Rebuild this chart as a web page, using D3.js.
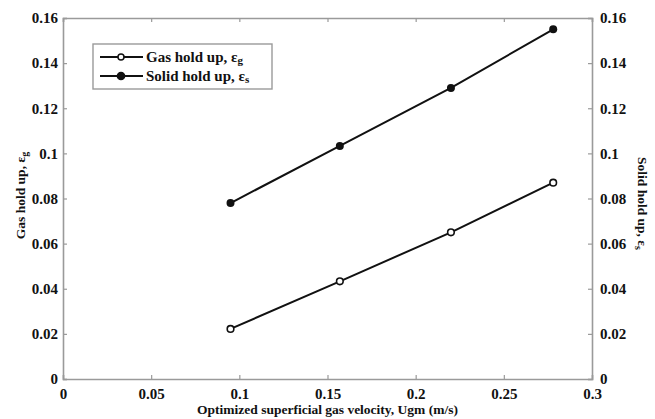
<!DOCTYPE html>
<html>
<head>
<meta charset="utf-8">
<script src="https://cdn.jsdelivr.net/npm/d3@7"></script>
<style>
  body { margin: 0; background: #fff; }
  svg { display: block; font-family: "Liberation Serif", "Times New Roman", serif; font-weight: bold; }
</style>
</head>
<body>
<div id="chart"></div>
<script>
// data
const velocity = [0.095, 0.157, 0.220, 0.278]
const gasHoldUp = [0.0222, 0.0433, 0.0650, 0.0870]
const solidHoldUp = [0.0780, 0.1033, 0.1290, 0.1550]
const xTicks = [0, 0.05, 0.1, 0.15, 0.2, 0.25, 0.3]
const yTicks = [0, 0.02, 0.04, 0.06, 0.08, 0.1, 0.12, 0.14, 0.16]

const width = 655, height = 419
const margin = { top: 18, right: 63, bottom: 40, left: 63 }

const svg = d3.select('#chart').append('svg')
  .attr('width', width)
  .attr('height', height)

const x = d3.scaleLinear().domain([0, 0.3]).range([margin.left, width - margin.right])
const yL = d3.scaleLinear().domain([0, 0.16]).range([height - margin.bottom, margin.top])
const yR = d3.scaleLinear().domain([0, 0.16]).range([height - margin.bottom, margin.top])

const frame = '#9a9a9a'
const fmt = d => d === 0 ? '0' : String(+d.toFixed(2))

// axes, ticks pointing inward
const bottomAxis = svg.append('g')
  .attr('transform', `translate(0,${yL(0)})`)
  .call(d3.axisBottom(x).tickValues(xTicks).tickSize(-4).tickPadding(7).tickFormat(fmt))
const topAxis = svg.append('g')
  .attr('transform', `translate(0,${yL(0.16)})`)
  .call(d3.axisTop(x).tickValues(xTicks).tickSize(-4).tickFormat(''))
const leftAxis = svg.append('g')
  .attr('transform', `translate(${x(0)},0)`)
  .call(d3.axisLeft(yL).tickValues(yTicks).tickSize(-4).tickPadding(5).tickFormat(fmt))
const rightAxis = svg.append('g')
  .attr('transform', `translate(${x(0.3)},0)`)
  .call(d3.axisRight(yR).tickValues(yTicks).tickSize(-4).tickPadding(8).tickFormat(fmt))

;[bottomAxis, topAxis, leftAxis, rightAxis].forEach(a => {
  a.select('.domain').attr('stroke', frame).attr('stroke-width', 1.6)
  a.selectAll('.tick line').attr('stroke', frame).attr('stroke-width', 1.2)
  a.selectAll('.tick text')
    .attr('fill', '#111')
    .style('font-family', '"Liberation Serif", serif')
    .style('font-weight', 'bold')
    .style('font-size', '15px')
})
bottomAxis.selectAll('.tick text').attr('dy', '0.85em')

// series
const gasData = velocity.map((v, i) => [v, gasHoldUp[i]])
const solidData = velocity.map((v, i) => [v, solidHoldUp[i]])

const line = yScale => d3.line().x(d => x(d[0])).y(d => yScale(d[1]))

svg.append('path').datum(solidData)
  .attr('d', line(yR))
  .attr('fill', 'none').attr('stroke', '#111').attr('stroke-width', 2)
svg.append('path').datum(gasData)
  .attr('d', line(yL))
  .attr('fill', 'none').attr('stroke', '#111').attr('stroke-width', 2)

svg.selectAll('.solid-pt').data(solidData).enter().append('circle')
  .attr('cx', d => x(d[0])).attr('cy', d => yR(d[1]))
  .attr('r', 4).attr('fill', '#111')
svg.selectAll('.gas-pt').data(gasData).enter().append('circle')
  .attr('cx', d => x(d[0])).attr('cy', d => yL(d[1]))
  .attr('r', 3.3).attr('fill', '#fff').attr('stroke', '#111').attr('stroke-width', 1.6)

// legend
const lg = svg.append('g').attr('transform', 'translate(93,44)')
lg.append('rect')
  .attr('width', 179).attr('height', 45)
  .attr('fill', '#fff').attr('stroke', frame).attr('stroke-width', 1.4)

const entries = [
  { name: 'Gas hold up, ε', sub: 'g', open: true },
  { name: 'Solid hold up, ε', sub: 's', open: false }
]
entries.forEach((e, i) => {
  const row = lg.append('g').attr('transform', `translate(0,${13 + i * 19})`)
  row.append('line').attr('x1', 7).attr('x2', 50).attr('y1', 0).attr('y2', 0)
    .attr('stroke', '#111').attr('stroke-width', 2)
  row.append('circle').attr('cx', 28).attr('cy', 0).attr('r', e.open ? 3 : 3.6)
    .attr('fill', e.open ? '#fff' : '#111').attr('stroke', '#111').attr('stroke-width', 1.5)
  const t = row.append('text').attr('x', 53).attr('y', 5)
    .style('font-size', '15px').attr('fill', '#111')
  t.append('tspan').text(e.name)
  t.append('tspan').attr('dy', 2).style('font-size', '11px').text(e.sub)
})

// axis titles
svg.append('text')
  .attr('x', (x(0) + x(0.3)) / 2).attr('y', 414)
  .attr('text-anchor', 'middle').style('font-size', '13.5px').attr('fill', '#111')
  .text('Optimized superficial gas velocity, Ugm (m/s)')

const ylt = svg.append('text')
  .attr('transform', `translate(25,${(yL(0) + yL(0.16)) / 2 - 3}) rotate(-90)`)
  .attr('text-anchor', 'middle').style('font-size', '13.5px').attr('fill', '#111')
ylt.append('tspan').text('Gas hold up, ε')
ylt.append('tspan').attr('dy', 3).style('font-size', '10px').text('g')

const yrt = svg.append('text')
  .attr('transform', `translate(638,${(yL(0) + yL(0.16)) / 2 + 5}) rotate(90)`)
  .attr('text-anchor', 'middle').style('font-size', '13.5px').attr('fill', '#111')
yrt.append('tspan').text('Solid hold up, ε')
yrt.append('tspan').attr('dy', 3).style('font-size', '10px').text('s')
</script>
</body>
</html>
